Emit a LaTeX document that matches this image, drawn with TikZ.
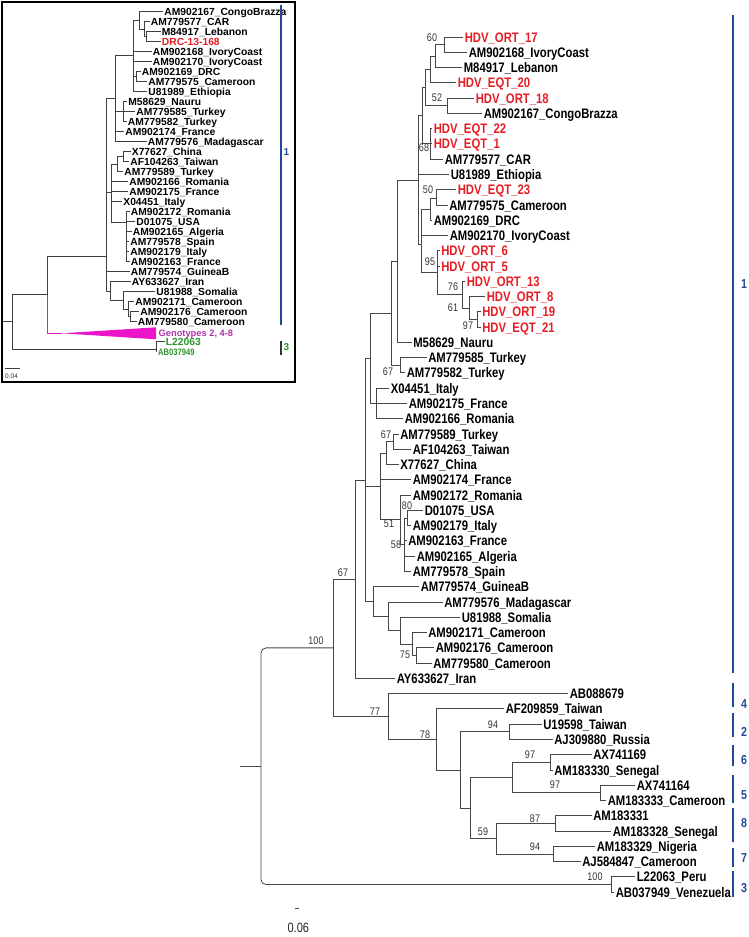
\documentclass[tikz,border=0pt]{standalone}
\usepackage{fontspec}
\setmainfont{Liberation Sans}
\newfontfamily\narrowfont[FakeStretch=0.82]{Liberation Sans}
\usetikzlibrary{calc}

\definecolor{hdvred}{RGB}{228,30,36}
\definecolor{gtblue}{RGB}{32,72,152}
\definecolor{gtgreen}{RGB}{40,150,40}
\definecolor{gtpink}{RGB}{236,20,200}
\definecolor{gtpurple}{RGB}{178,50,172}

\begin{document}
\begin{tikzpicture}[
    x=1pt,
    y=-1pt,
    branch/.style={
        draw=black!72,
        line width=0.85pt
    },
    tip/.style={
        anchor=west,
        inner sep=0pt,
        inner xsep=1.6pt,
        text height=10pt,
        text depth=0pt,
        font=\narrowfont\bfseries\fontsize{13.8}{14}\selectfont
    },
    hdv/.style={
        tip,
        text=hdvred
    },
    boot/.style={
        inner sep=0pt,
        text=black!80,
        font=\narrowfont\fontsize{11}{11}\selectfont
    },
    gtbar/.style={
        draw=gtblue,
        line width=2pt
    },
    gtnum/.style={
        inner sep=0pt,
        text=gtblue,
        font=\narrowfont\bfseries\fontsize{13}{13}\selectfont
    },
    ibranch/.style={
        draw=black!75,
        line width=0.75pt
    },
    itip/.style={
        anchor=west,
        inner sep=0pt,
        inner xsep=1.2pt,
        text height=7.4pt,
        text depth=0pt,
        font=\bfseries\fontsize{10.3}{10.3}\selectfont
    }
]

\useasboundingbox (0,0) rectangle (748,937);

% =====================================================
% Main tree: internal nodes
% =====================================================

\coordinate (n60) at (444,44.6);
\coordinate (na) at (435,56.1);
\coordinate (nb) at (430,69.4);
\coordinate (n52) at (447,105.7);
\coordinate (nc) at (425,87.6);
\coordinate (n68) at (430,143.9);
\coordinate (nd) at (422.5,115.7);
\coordinate (n50) at (436.7,198.4);
\coordinate (nm) at (430.7,209.9);
\coordinate (n97a) at (477.7,319.5);
\coordinate (n61) at (469.3,308);
\coordinate (n76) at (462.7,294.7);
\coordinate (n95) at (437.7,272.8);
\coordinate (nf) at (421.7,244);
\coordinate (ne) at (418.3,180);
\coordinate (ng) at (397.3,261.3);
\coordinate (n67a) at (400,365.3);
\coordinate (nh) at (391.7,313.3);
\coordinate (ni) at (376.7,403.5);
\coordinate (no) at (370.7,358.4);
\coordinate (n67b) at (393.3,441.7);
\coordinate (nl) at (386.7,453.1);
\coordinate (n80) at (407.3,518);
\coordinate (n58) at (404,544.7);
\coordinate (n51) at (400.7,519.9);
\coordinate (nk) at (380,486.5);
\coordinate (n75) at (416,655.5);
\coordinate (nv) at (412.7,644);
\coordinate (nu) at (400,630.7);
\coordinate (nt) at (388.3,616.3);
\coordinate (ns) at (373.3,601.5);
\coordinate (np) at (365,480);
\coordinate (n67) at (355,579.2);
\coordinate (n94a) at (509.3,731.8);
\coordinate (n97b) at (550,762.3);
\coordinate (n97c) at (600,792.8);
\coordinate (n6x) at (512.7,777.6);
\coordinate (n87) at (555,823.4);
\coordinate (n94b) at (553.3,854);
\coordinate (n59) at (496.7,838.7);
\coordinate (nq) at (470.7,808.2);
\coordinate (nr) at (460,770);
\coordinate (n78) at (436.7,739.5);
\coordinate (n77) at (388.3,716.5);
\coordinate (n100) at (333.3,647.9);
\coordinate (n100c) at (611.7,884.5);
\coordinate (root) at (261,766.2);
\coordinate (rootstem) at (240,766.2);

% =====================================================
% Main tree: tips
% =====================================================

\node[hdv] (ort17) at (463,37.0) {HDV\_ORT\_17};
\node[tip] (am902168) at (467,52.3) {AM902168\_IvoryCoast};
\node[tip] (m84917) at (462,67.5) {M84917\_Lebanon};
\node[hdv] (eqt20) at (456,82.8) {HDV\_EQT\_20};
\node[hdv] (ort18) at (474,98.1) {HDV\_ORT\_18};
\node[tip] (am902167) at (482,113.4) {AM902167\_CongoBrazza};
\node[hdv] (eqt22) at (432,128.6) {HDV\_EQT\_22};
\node[hdv] (eqt1) at (432,143.9) {HDV\_EQT\_1};
\node[tip] (am779577) at (443,159.2) {AM779577\_CAR};
\node[tip] (u81989) at (449,174.4) {U81989\_Ethiopia};
\node[hdv] (eqt23) at (456,189.7) {HDV\_EQT\_23};
\node[tip] (am779575) at (447.5,205.0) {AM779575\_Cameroon};
\node[tip] (am902169) at (432,220.2) {AM902169\_DRC};
\node[tip] (am902170) at (448,235.5) {AM902170\_IvoryCoast};
\node[hdv] (ort6) at (439.5,250.8) {HDV\_ORT\_6};
\node[hdv] (ort5) at (439.5,266.1) {HDV\_ORT\_5};
\node[hdv] (ort13) at (465,281.3) {HDV\_ORT\_13};
\node[hdv] (ort8) at (485,296.6) {HDV\_ORT\_8};
\node[hdv] (ort19) at (480.5,311.9) {HDV\_ORT\_19};
\node[hdv] (eqt21) at (480.5,327.1) {HDV\_EQT\_21};
\node[tip] (m58629) at (411.5,342.4) {M58629\_Nauru};
\node[tip] (am779585) at (426.5,357.7) {AM779585\_Turkey};
\node[tip] (am779582) at (405,372.9) {AM779582\_Turkey};
\node[tip] (x04451) at (389,388.2) {X04451\_Italy};
\node[tip] (am902175) at (407,403.5) {AM902175\_France};
\node[tip] (am902166) at (403,418.8) {AM902166\_Romania};
\node[tip] (am779589) at (398.5,434.0) {AM779589\_Turkey};
\node[tip] (af104263) at (411,449.3) {AF104263\_Taiwan};
\node[tip] (x77627) at (398.5,464.6) {X77627\_China};
\node[tip] (am902174) at (411,479.8) {AM902174\_France};
\node[tip] (am902172) at (411,495.1) {AM902172\_Romania};
\node[tip] (d01075) at (423,510.4) {D01075\_USA};
\node[tip] (am902179) at (411,525.6) {AM902179\_Italy};
\node[tip] (am902163) at (406.5,540.9) {AM902163\_France};
\node[tip] (am902165) at (415,556.2) {AM902165\_Algeria};
\node[tip] (am779578) at (411,571.5) {AM779578\_Spain};
\node[tip] (am779574) at (419,586.7) {AM779574\_GuineaB};
\node[tip] (am779576) at (442.5,602.0) {AM779576\_Madagascar};
\node[tip] (u81988) at (460,617.3) {U81988\_Somalia};
\node[tip] (am902171) at (426.5,632.5) {AM902171\_Cameroon};
\node[tip] (am902176) at (434,647.8) {AM902176\_Cameroon};
\node[tip] (am779580) at (431.5,663.1) {AM779580\_Cameroon};
\node[tip] (ay633627) at (395,678.3) {AY633627\_Iran};
\node[tip] (ab088679) at (568,693.6) {AB088679};
\node[tip] (af209859) at (504,708.9) {AF209859\_Taiwan};
\node[tip] (u19598) at (541.5,724.2) {U19598\_Taiwan};
\node[tip] (aj309880) at (552.5,739.4) {AJ309880\_Russia};
\node[tip] (ax741169) at (591.5,754.7) {AX741169};
\node[tip] (am183330) at (552.5,770.0) {AM183330\_Senegal};
\node[tip] (ax741164) at (635,785.2) {AX741164};
\node[tip] (am183333) at (606,800.5) {AM183333\_Cameroon};
\node[tip] (am183331) at (591.5,815.8) {AM183331};
\node[tip] (am183328) at (611,831.0) {AM183328\_Senegal};
\node[tip] (am183329) at (595,846.3) {AM183329\_Nigeria};
\node[tip] (aj584847) at (580.5,861.6) {AJ584847\_Cameroon};
\node[tip] (l22063p) at (635,876.9) {L22063\_Peru};
\node[tip] (ab037949v) at (614,892.1) {AB037949\_Venezuela};

% =====================================================
% Main tree: branches
% =====================================================

\draw[branch] (n60) |- (ort17.west);
\draw[branch] (n60) |- (am902168.west);
\draw[branch] (na) |- (n60);
\draw[branch] (na) |- (m84917.west);
\draw[branch] (nb) |- (na);
\draw[branch] (nb) |- (eqt20.west);
\draw[branch] (n52) |- (ort18.west);
\draw[branch] (n52) |- (am902167.west);
\draw[branch] (nc) |- (nb);
\draw[branch] (nc) |- (n52);
\draw[branch] (n68) |- (eqt22.west);
\draw[branch] (n68) |- (eqt1.west);
\draw[branch] (n68) |- (am779577.west);
\draw[branch] (nd) |- (nc);
\draw[branch] (nd) |- (n68);
\draw[branch] (ne) |- (nd);
\draw[branch] (ne) |- (u81989.west);
\draw[branch] (ne) |- (nf);

\draw[branch] (n50) |- (eqt23.west);
\draw[branch] (n50) |- (am779575.west);
\draw[branch] (nm) |- (n50);
\draw[branch] (nm) |- (am902169.west);
\draw[branch] (n97a) |- (ort19.west);
\draw[branch] (n97a) |- (eqt21.west);
\draw[branch] (n61) |- (ort8.west);
\draw[branch] (n61) |- (n97a);
\draw[branch] (n76) |- (ort13.west);
\draw[branch] (n76) |- (n61);
\draw[branch] (n95) |- (ort6.west);
\draw[branch] (n95) |- (ort5.west);
\draw[branch] (n95) |- (n76);
\draw[branch] (nf) |- (nm);
\draw[branch] (nf) |- (am902170.west);
\draw[branch] (nf) |- (n95);

\draw[branch] (ng) |- (ne);
\draw[branch] (ng) |- (m58629.west);
\draw[branch] (n67a) |- (am779585.west);
\draw[branch] (n67a) |- (am779582.west);
\draw[branch] (nh) |- (ng);
\draw[branch] (nh) |- (n67a);
\draw[branch] (ni) |- (x04451.west);
\draw[branch] (ni) |- (am902175.west);
\draw[branch] (ni) |- (am902166.west);
\draw[branch] (no) |- (nh);
\draw[branch] (no) |- (ni);

\draw[branch] (n67b) |- (am779589.west);
\draw[branch] (n67b) |- (af104263.west);
\draw[branch] (nl) |- (n67b);
\draw[branch] (nl) |- (x77627.west);
\draw[branch] (n80) |- (d01075.west);
\draw[branch] (n80) |- (am902179.west);
\draw[branch] (n58) |- (n80);
\draw[branch] (n58) |- (am902163.west);
\draw[branch] (n58) |- (am902165.west);
\draw[branch] (n58) |- (am779578.west);
\draw[branch] (n51) |- (am902172.west);
\draw[branch] (n51) |- (n58);
\draw[branch] (nk) |- (nl);
\draw[branch] (nk) |- (am902174.west);
\draw[branch] (nk) |- (n51);

\draw[branch] (n75) |- (am902176.west);
\draw[branch] (n75) |- (am779580.west);
\draw[branch] (nv) |- (am902171.west);
\draw[branch] (nv) |- (n75);
\draw[branch] (nu) |- (u81988.west);
\draw[branch] (nu) |- (nv);
\draw[branch] (nt) |- (am779576.west);
\draw[branch] (nt) |- (nu);
\draw[branch] (ns) |- (am779574.west);
\draw[branch] (ns) |- (nt);

\draw[branch] (np) |- (no);
\draw[branch] (np) |- (nk);
\draw[branch] (np) |- (ns);
\draw[branch] (n67) |- (np);
\draw[branch] (n67) |- (ay633627.west);

% genotypes 2, 4-8
\draw[branch] (n94a) |- (u19598.west);
\draw[branch] (n94a) |- (aj309880.west);
\draw[branch] (n97b) |- (ax741169.west);
\draw[branch] (n97b) |- (am183330.west);
\draw[branch] (n97c) |- (ax741164.west);
\draw[branch] (n97c) |- (am183333.west);
\draw[branch] (n6x) |- (n97b);
\draw[branch] (n6x) |- (n97c);
\draw[branch] (n87) |- (am183331.west);
\draw[branch] (n87) |- (am183328.west);
\draw[branch] (n94b) |- (am183329.west);
\draw[branch] (n94b) |- (aj584847.west);
\draw[branch] (n59) |- (n87);
\draw[branch] (n59) |- (n94b);
\draw[branch] (nq) |- (n6x);
\draw[branch] (nq) |- (n59);
\draw[branch] (nr) |- (n94a);
\draw[branch] (nr) |- (nq);
\draw[branch] (n78) |- (af209859.west);
\draw[branch] (n78) |- (nr);
\draw[branch] (n77) |- (ab088679.west);
\draw[branch] (n77) |- (n78);
\draw[branch] (n100) |- (n67);
\draw[branch] (n100) |- (n77);

% genotype 3 and root
\draw[branch] (n100c) |- (l22063p.west);
\draw[branch] (n100c) |- (ab037949v.west);
\draw[branch, rounded corners=5pt] (root) |- (n100);
\draw[branch, rounded corners=5pt] (root) |- (n100c);
\draw[branch] (rootstem) -- (root);

% =====================================================
% Bootstrap values
% =====================================================

\node[boot] (b60) at (432,38) {60};
\node[boot] (b52) at (437,98) {52};
\node[boot] (b68) at (424,148) {68};
\node[boot] (b50) at (428,190) {50};
\node[boot] (b95) at (430,262) {95};
\node[boot] (b76) at (453,287) {76};
\node[boot] (b61) at (453,308) {61};
\node[boot] (b97h) at (468,326) {97};
\node[boot] (b67t) at (388,372) {67};
\node[boot] (b67c) at (386,435) {67};
\node[boot] (b80) at (407,506) {80};
\node[boot] (b51) at (389,524) {51};
\node[boot] (b58) at (396,545) {58};
\node[boot] (b67) at (343,573) {67};
\node[boot] (b75) at (405,655) {75};
\node[boot] (b100) at (316,641) {100};
\node[boot] (b77) at (375,712) {77};
\node[boot] (b78) at (425,735) {78};
\node[boot] (b94a) at (493,725) {94};
\node[boot] (b97b) at (530,755) {97};
\node[boot] (b97c) at (555,785) {97};
\node[boot] (b87) at (535,819) {87};
\node[boot] (b59) at (483,832) {59};
\node[boot] (b94b) at (535,847) {94};
\node[boot] (b100c) at (595,877) {100};

% =====================================================
% Genotype bars
% =====================================================

\draw[gtbar] (733,15) -- (733,673);
\draw[gtbar] (733,683) -- (733,707);
\draw[gtbar] (733,713) -- (733,737);
\draw[gtbar] (733,745) -- (733,766);
\draw[gtbar] (733,775) -- (733,803);
\draw[gtbar] (733,808) -- (733,842);
\draw[gtbar] (733,848) -- (733,867);
\draw[gtbar] (733,871) -- (733,897);

\node[gtnum] (g1) at (744,284) {1};
\node[gtnum] (g4) at (744,704) {4};
\node[gtnum] (g2) at (744,731.7) {2};
\node[gtnum] (g6) at (744,760) {6};
\node[gtnum] (g5) at (744,795) {5};
\node[gtnum] (g8) at (744,823) {8};
\node[gtnum] (g7) at (744,858) {7};
\node[gtnum] (g3) at (744,888) {3};

% scale
\coordinate (sbl) at (294.5,908);
\coordinate (sbr) at (299,908);
\draw[branch] (sbl) -- (sbr);
\node[inner sep=0pt, text=black!85, font=\narrowfont\fontsize{13.5}{13.5}\selectfont] (sc06) at (298.3,928) {0.06};

% =====================================================
% Inset
% =====================================================

\draw[line width=2pt] (1.5,1.5) rectangle (295,381.5);

\coordinate (ia3) at (146.7,36.5);
\coordinate (ia2) at (144,29);
\coordinate (ia1) at (139.3,20);
\coordinate (ia4) at (136.7,76.5);
\coordinate (ia0) at (133.3,55);
\coordinate (ib1) at (123.3,111.5);
\coordinate (ic0) at (115,98);
\coordinate (id1) at (123.3,156.5);
\coordinate (id2) at (117.7,164);
\coordinate (ie1) at (126.7,222);
\coordinate (id4) at (111,192);
\coordinate (if3) at (130.7,316.5);
\coordinate (if2) at (128.3,309);
\coordinate (if1) at (123.3,300);
\coordinate (if0) at (110,291);
\coordinate (im) at (106,256);
\coordinate (iup) at (47.7,294.3);
\coordinate (ig3) at (156.7,349);
\coordinate (iroot) at (12.3,321.8);
\coordinate (irootstem) at (3,321.8);
\coordinate (itri) at (62,333.3);
\coordinate (itria) at (156,327.3);
\coordinate (itrib) at (156,339.3);

\node[itip] (i902167) at (163,11.5) {AM902167\_CongoBrazza};
\node[itip] (i779577) at (149.5,21.5) {AM779577\_CAR};
\node[itip] (i84917) at (160.5,31.5) {M84917\_Lebanon};
\node[itip, text=hdvred] (idrc) at (160.5,41.5) {DRC-13-168};
\node[itip] (i902168) at (151.5,51.5) {AM902168\_IvoryCoast};
\node[itip] (i902170) at (151.5,61.5) {AM902170\_IvoryCoast};
\node[itip] (i902169) at (140.5,71.5) {AM902169\_DRC};
\node[itip] (i779575) at (147,81.5) {AM779575\_Cameroon};
\node[itip] (i81989) at (147,91.5) {U81989\_Ethiopia};
\node[itip] (i58629) at (127,101.5) {M58629\_Nauru};
\node[itip] (i779585) at (135,111.5) {AM779585\_Turkey};
\node[itip] (i779582) at (126.5,121.5) {AM779582\_Turkey};
\node[itip] (i902174) at (124,131.5) {AM902174\_France};
\node[itip] (i779576) at (146.5,141.5) {AM779576\_Madagascar};
\node[itip] (i77627) at (130.5,151.5) {X77627\_China};
\node[itip] (i104263) at (129,161.5) {AF104263\_Taiwan};
\node[itip] (i779589) at (123,171.5) {AM779589\_Turkey};
\node[itip] (i902166) at (128,181.5) {AM902166\_Romania};
\node[itip] (i902175) at (128,191.5) {AM902175\_France};
\node[itip] (i04451) at (122,201.5) {X04451\_Italy};
\node[itip] (i902172) at (129.5,211.5) {AM902172\_Romania};
\node[itip] (i01075) at (135,221.5) {D01075\_USA};
\node[itip] (i902165) at (131.5,231.5) {AM902165\_Algeria};
\node[itip] (i779578) at (129,241.5) {AM779578\_Spain};
\node[itip] (i902179) at (129,251.5) {AM902179\_Italy};
\node[itip] (i902163) at (129.5,261.5) {AM902163\_France};
\node[itip] (i779574) at (129.5,271.5) {AM779574\_GuineaB};
\node[itip] (i633627) at (130.5,281.5) {AY633627\_Iran};
\node[itip] (i81988) at (155,291.5) {U81988\_Somalia};
\node[itip] (i902171) at (134,301.5) {AM902171\_Cameroon};
\node[itip] (i902176) at (139,311.5) {AM902176\_Cameroon};
\node[itip] (i779580) at (136.5,321.5) {AM779580\_Cameroon};
\node[itip, text=gtgreen] (il22063) at (164.5,341.7) {L22063};
\node[itip, text=gtgreen, text height=6.7pt, font=\narrowfont\bfseries\fontsize{9.3}{9.3}\selectfont] (iab037949) at (156.7,352.3) {AB037949};
\node[anchor=west, inner sep=0pt, inner xsep=1.5pt, text height=6.7pt, text depth=0pt, text=gtpurple, font=\bfseries\fontsize{9.3}{9.3}\selectfont] (igeno) at (157,333.3) {Genotypes 2, 4-8};

\draw[ibranch] (ia3) |- (i84917.west);
\draw[ibranch] (ia3) |- (idrc.west);
\draw[ibranch] (ia2) |- (i779577.west);
\draw[ibranch] (ia2) |- (ia3);
\draw[ibranch] (ia1) |- (i902167.west);
\draw[ibranch] (ia1) |- (ia2);
\draw[ibranch] (ia4) |- (i902169.west);
\draw[ibranch] (ia4) |- (i779575.west);
\draw[ibranch] (ia0) |- (ia1);
\draw[ibranch] (ia0) |- (i902168.west);
\draw[ibranch] (ia0) |- (i902170.west);
\draw[ibranch] (ia0) |- (ia4);
\draw[ibranch] (ia0) |- (i81989.west);
\draw[ibranch] (ib1) |- (i58629.west);
\draw[ibranch] (ib1) |- (i779585.west);
\draw[ibranch] (ib1) |- (i779582.west);
\draw[ibranch] (ic0) |- (ia0);
\draw[ibranch] (ic0) |- (ib1);
\draw[ibranch] (ic0) |- (i902174.west);
\draw[ibranch] (ic0) |- (i779576.west);
\draw[ibranch] (id1) |- (i77627.west);
\draw[ibranch] (id1) |- (i104263.west);
\draw[ibranch] (id2) |- (id1);
\draw[ibranch] (id2) |- (i779589.west);
\draw[ibranch] (ie1) |- (i902172.west);
\draw[ibranch] (ie1) |- (i01075.west);
\draw[ibranch] (ie1) |- (i902165.west);
\draw[ibranch] (ie1) |- (i779578.west);
\draw[ibranch] (ie1) |- (i902179.west);
\draw[ibranch] (ie1) |- (i902163.west);
\draw[ibranch] (id4) |- (id2);
\draw[ibranch] (id4) |- (i902166.west);
\draw[ibranch] (id4) |- (i902175.west);
\draw[ibranch] (id4) |- (i04451.west);
\draw[ibranch] (id4) |- (ie1);
\draw[ibranch] (if3) |- (i902176.west);
\draw[ibranch] (if3) |- (i779580.west);
\draw[ibranch] (if2) |- (i902171.west);
\draw[ibranch] (if2) |- (if3);
\draw[ibranch] (if1) |- (i81988.west);
\draw[ibranch] (if1) |- (if2);
\draw[ibranch] (if0) |- (i633627.west);
\draw[ibranch] (if0) |- (if1);
\draw[ibranch] (im) |- (ic0);
\draw[ibranch] (im) |- (id4);
\draw[ibranch] (im) |- (i779574.west);
\draw[ibranch] (im) |- (if0);
\draw[ibranch] (iup) |- (im);
\draw[ibranch, draw=gtpink] (iup) |- (itri);
\fill[gtpink] (itri) -- (itria) -- (itrib) -- cycle;
\draw[ibranch] (ig3) |- (il22063.west);
\draw[ibranch] (ig3) |- (iab037949.west);
\draw[ibranch] (iroot) |- (iup);
\draw[ibranch] (iroot) |- (ig3);
\draw[ibranch] (irootstem) -- (iroot);

% inset bars and scale
\draw[draw=gtblue, line width=1.8pt] (280.7,5) -- (280.7,325);
\draw[draw=black!80, line width=1.8pt] (280.7,340.7) -- (280.7,355);
\node[inner sep=0pt, text=gtblue, font=\bfseries\fontsize{10}{10}\selectfont] (ig1) at (286.5,151.7) {1};
\node[inner sep=0pt, text=gtgreen, font=\bfseries\fontsize{10}{10}\selectfont] (ig3n) at (286.5,347.3) {3};
\coordinate (isbl) at (5,368.3);
\coordinate (isbr) at (20,368.3);
\draw[ibranch] (isbl) -- (isbr);
\node[anchor=west, inner sep=0pt, text=black!80, font=\fontsize{6.5}{6.5}\selectfont] (isc04) at (5,376) {0.04};

\end{tikzpicture}
\end{document}
